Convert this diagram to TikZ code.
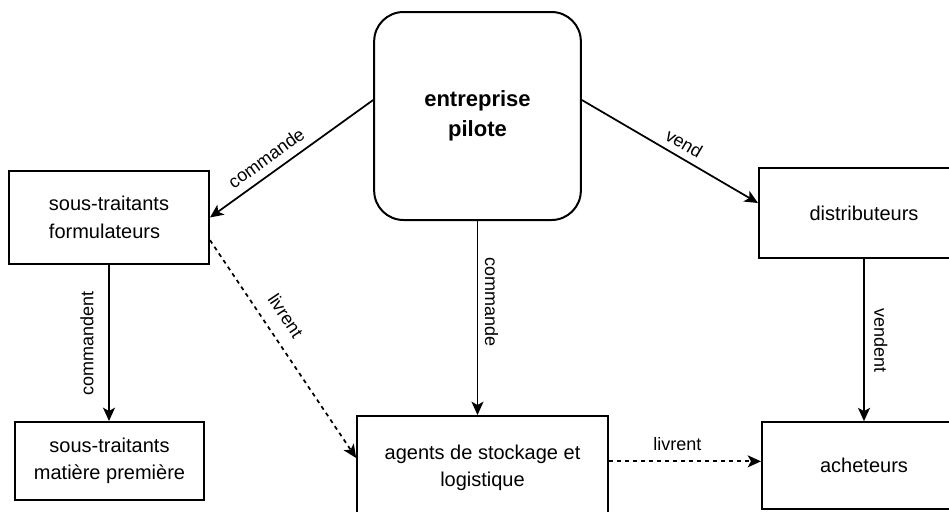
\documentclass[tikz,border=0pt]{standalone}
\usepackage{fontspec}
\setmainfont{Liberation Sans}
\usetikzlibrary{arrows.meta}
\tikzset{
  box/.style={draw, line width=1.5pt, align=center, inner sep=0pt,
    font=\fontsize{15}{20.5}\selectfont},
  fleche/.style={-{Stealth[length=10pt,width=9pt,inset=2.5pt]}, line width=1.3pt},
  pointille/.style={fleche, dash pattern=on 3pt off 3pt},
  lbl/.style={font=\fontsize{13.5}{15}\selectfont, inner sep=2pt},
}
\begin{document}
\begin{tikzpicture}[x=0.75pt, y=-0.75pt]
  \useasboundingbox (0,0) rectangle (949,511);
  % boites
  \node[box, rounded corners=22pt, minimum width=155pt, minimum height=156pt,
    font=\fontsize{16.5}{22.5}\selectfont\bfseries] (pilote) at (477.5,116) {entreprise\\pilote};
  \node[box, align=left, minimum width=150pt, minimum height=70pt] (formulateurs) at (109,217.5) {sous-traitants\\formulateurs};
  \node[box, minimum width=142pt, minimum height=58.5pt] (matiere) at (109.5,461) {sous-traitants\\matière première};
  \node[box, minimum width=188pt, minimum height=78pt] (agents) at (482.5,468) {agents de stockage et\\logistique};
  \node[box, minimum width=157.5pt, minimum height=67.5pt] (distributeurs) at (864,213) {distributeurs};
  \node[box, minimum width=153pt, minimum height=65pt] (acheteurs) at (864,465.5) {acheteurs};
  % fleches
  \draw[fleche] ([yshift=12pt]pilote.west) -- (formulateurs.east) node[lbl, sloped, above=4pt, pos=0.6] {commande};
  \draw[fleche] ([yshift=12pt]pilote.east) -- ([yshift=7.5pt]distributeurs.west) node[lbl, sloped, above=3pt, pos=0.54] {vend};
  \draw[fleche] (pilote.south) -- (pilote.south |- agents.north) node[lbl, sloped, above=3pt, pos=0.42] {commande};
  \draw[fleche] (formulateurs.south) -- (formulateurs.south |- matiere.north) node[lbl, midway, xshift=-9pt, rotate=90, anchor=south] {commandent};
  \draw[fleche] (distributeurs.south) -- (acheteurs.north) node[lbl, sloped, above=5pt, midway] {vendent};
  \draw[pointille] ([yshift=-17pt]formulateurs.east) -- ([yshift=7.5pt]agents.west) node[lbl, sloped, above=8pt, pos=0.4] {livrent};
  \draw[pointille] ([yshift=5pt]agents.east) -- ([yshift=5pt]agents.east -| acheteurs.west) node[lbl, above=5pt, pos=0.45] {livrent};
\end{tikzpicture}
\end{document}
